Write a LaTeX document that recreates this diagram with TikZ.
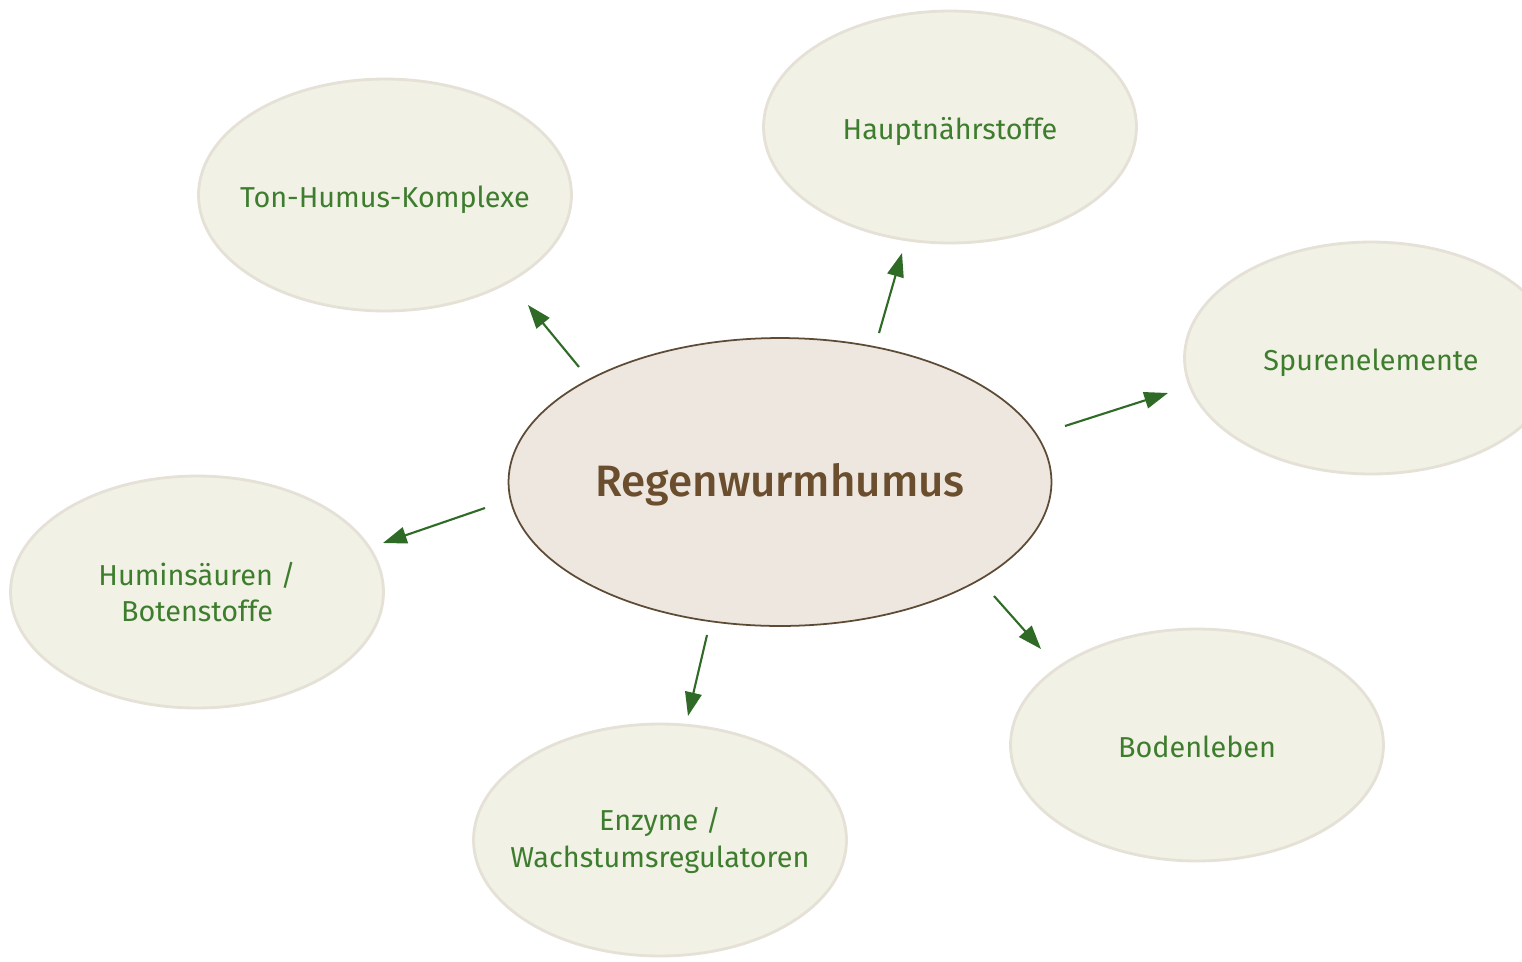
\documentclass[tikz,border=0pt]{standalone}
\usepackage{fontspec}
\setmainfont{Fira Sans}
\newfontfamily\hubfont{Fira Sans}[UprightFont=* Medium]
\usetikzlibrary{arrows.meta,shapes.geometric}
\definecolor{outerfill}{HTML}{F1F1E5}
\definecolor{outerline}{HTML}{E6E1D7}
\definecolor{centerfill}{HTML}{EDE7E0}
\definecolor{centerline}{HTML}{5E4B36}
\definecolor{brownText}{HTML}{6A4E2E}
\definecolor{greenText}{HTML}{3E7D2E}
\definecolor{arrowGreen}{HTML}{2F6B27}
\tikzset{
  px/.style={x=0.02cm,y=-0.02cm},
  bubble/.style={ellipse, fill=outerfill, draw=outerline, line width=1.6pt,
    minimum width=7.46cm, minimum height=4.64cm, inner xsep=-30pt, inner ysep=-10pt,
    text=greenText, font=\fontsize{16.4}{21}\selectfont, align=center},
  oneline/.style={text height=17pt, text depth=2.8pt},
  hub/.style={ellipse, fill=centerfill, draw=centerline, line width=1pt,
    minimum width=10.86cm, minimum height=5.76cm, inner xsep=-40pt, inner ysep=0pt,
    text height=23pt, text depth=6pt,
    text=brownText, font=\fontsize{25}{30}\hubfont},
  arr/.style={draw=arrowGreen, line width=1.2pt,
    -{Triangle[length=13.5pt,width=9.5pt]}},
}
\begin{document}
\begin{tikzpicture}[px]
\useasboundingbox (0,0) rectangle (1522,961);
\fill[white] (0,0) rectangle (1522,961);
\begin{scope}
\clip (0,0) rectangle (1522,961);
\node[bubble,oneline] (ton)    at (385,195) {Ton-Humus-Komplexe};
\node[bubble,oneline] (haupt)  at (950,127) {Hauptnährstoffe};
\node[bubble,oneline] (spur)   at (1371,358) {Spurenelemente};
\node[bubble] (humin)  at (197,592) {Huminsäuren /\\Botenstoffe};
\node[bubble] (enzym)  at (660,840) {Enzyme /\\Wachstumsregulatoren};
\node[bubble,oneline] (boden)  at (1197,745) {Bodenleben};
\node[hub] (hub) at (780,482) {Regenwurmhumus};
\end{scope}
\coordinate (s1) at (579,367); \coordinate (e1) at (528,305);
\coordinate (s2) at (879,333); \coordinate (e2) at (902,253);
\coordinate (s3) at (1065,426); \coordinate (e3) at (1168,393);
\coordinate (s4) at (485,508); \coordinate (e4) at (383,543);
\coordinate (s5) at (707,635); \coordinate (e5) at (688,716);
\coordinate (s6) at (994,596); \coordinate (e6) at (1041,649);
\draw[arr] (s1) -- (e1);
\draw[arr] (s2) -- (e2);
\draw[arr] (s3) -- (e3);
\draw[arr] (s4) -- (e4);
\draw[arr] (s5) -- (e5);
\draw[arr] (s6) -- (e6);
\end{tikzpicture}
\end{document}
